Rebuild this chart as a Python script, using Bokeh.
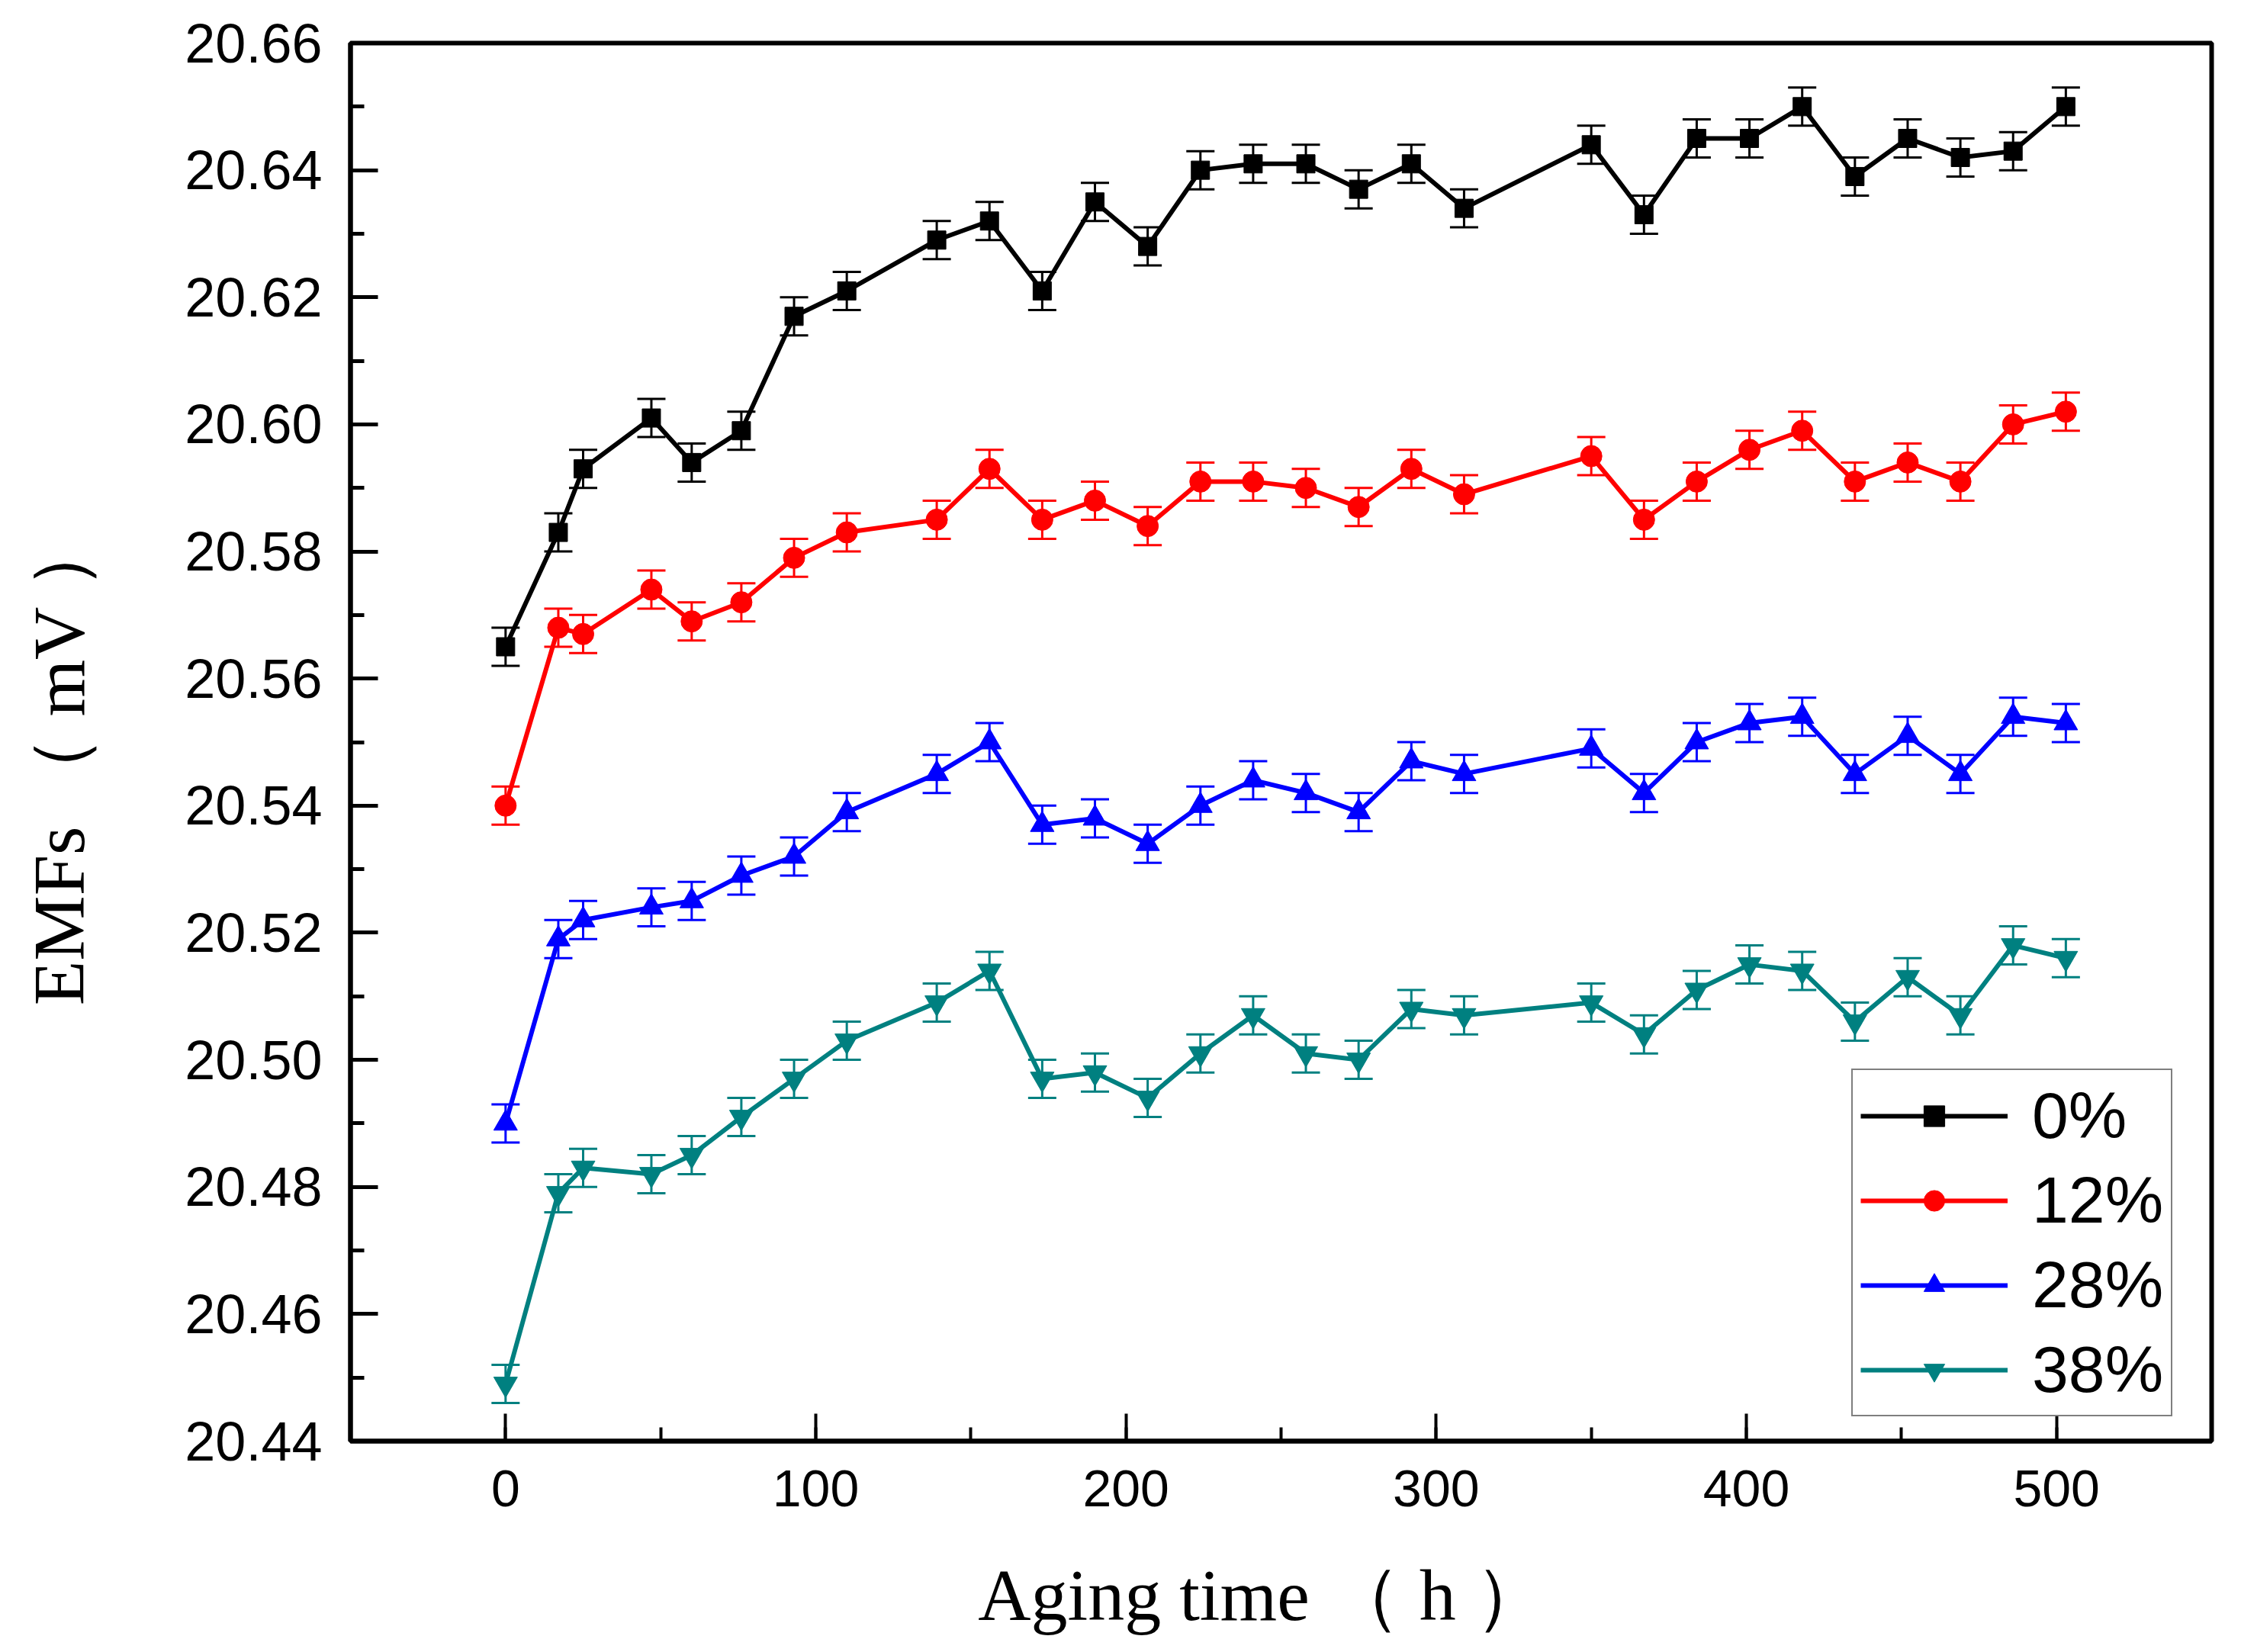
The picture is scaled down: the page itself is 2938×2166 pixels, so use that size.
from bokeh.plotting import figure
from bokeh.models import (ColumnDataSource, Whisker, TeeHead, SingleIntervalTicker,
                          PrintfTickFormatter, Range1d, Legend, LegendItem)
from bokeh.embed import file_html
from bokeh.resources import INLINE

# Aging time (h) and measured EMF (mV) for each doping level
aging_h = [0, 17, 25, 47, 60, 76, 93, 110, 139, 156, 173, 190, 207, 224, 241,
           258, 275, 292, 309, 350, 367, 384, 401, 418, 435, 452, 469, 486, 503]

emf_0 = [20.565, 20.583, 20.593, 20.601, 20.594, 20.599, 20.617, 20.621, 20.629,
         20.632, 20.621, 20.635, 20.628, 20.640, 20.641, 20.641, 20.637, 20.641,
         20.634, 20.644, 20.633, 20.645, 20.645, 20.650, 20.639, 20.645, 20.642,
         20.643, 20.650]
emf_12 = [20.540, 20.568, 20.567, 20.574, 20.569, 20.572, 20.579, 20.583, 20.585,
          20.593, 20.585, 20.588, 20.584, 20.591, 20.591, 20.590, 20.587, 20.593,
          20.589, 20.595, 20.585, 20.591, 20.596, 20.599, 20.591, 20.594, 20.591,
          20.600, 20.602]
emf_28 = [20.490, 20.519, 20.522, 20.524, 20.525, 20.529, 20.532, 20.539, 20.545,
          20.550, 20.537, 20.538, 20.534, 20.540, 20.544, 20.542, 20.539, 20.547,
          20.545, 20.549, 20.542, 20.550, 20.553, 20.554, 20.545, 20.551, 20.545,
          20.554, 20.553]
emf_38 = [20.449, 20.479, 20.483, 20.482, 20.485, 20.491, 20.497, 20.503, 20.509,
          20.514, 20.497, 20.498, 20.494, 20.501, 20.507, 20.501, 20.500, 20.508,
          20.507, 20.509, 20.504, 20.511, 20.515, 20.514, 20.506, 20.513, 20.507,
          20.518, 20.516]
emf_err = 0.003

series_labels = ["0%", "12%", "28%", "38%"]
series_values = [emf_0, emf_12, emf_28, emf_38]
series_colors = ["#000000", "#FF0000", "#0000FF", "#008080"]
series_markers = ["square", "circle", "triangle", "inverted_triangle"]
marker_sizes = [24, 28, 31, 31]

SANS = "Liberation Sans"
SERIF = "Liberation Serif"
NBSP = "\u00a0"

p = figure(width=2938, height=2166, output_backend="svg", toolbar_location=None,
           x_range=Range1d(-50, 550), y_range=Range1d(20.44, 20.66),
           min_border_left=459, min_border_right=39, min_border_top=56,
           min_border_bottom=277, background_fill_color="white",
           border_fill_color="white")
p.grid.visible = False
p.outline_line_color = "black"
p.outline_line_width = 6

# axes
p.xaxis.ticker = SingleIntervalTicker(interval=100, num_minor_ticks=2)
p.yaxis.ticker = SingleIntervalTicker(interval=0.02, num_minor_ticks=2)
p.yaxis.formatter = PrintfTickFormatter(format="%.2f")
for ax in (p.xaxis[0], p.yaxis[0]):
    ax.axis_line_width = 6
    ax.axis_line_color = "black"
    ax.major_tick_out = 0
    ax.minor_tick_out = 0
    ax.major_tick_in = 36
    ax.minor_tick_in = 18
    ax.major_tick_line_color = "black"
    ax.minor_tick_line_color = "black"
    ax.major_label_text_font = SANS
    ax.major_label_text_color = "black"
    ax.axis_label_text_font = SERIF
    ax.axis_label_text_font_style = "normal"
    ax.axis_label_text_font_size = "96px"
    ax.axis_label_text_color = "black"
p.xaxis.major_tick_line_width = 4
p.xaxis.minor_tick_line_width = 4
p.yaxis.major_tick_line_width = 5
p.yaxis.minor_tick_line_width = 5
p.xaxis.major_label_text_font_size = "68px"
p.yaxis.major_label_text_font_size = "72px"
p.xaxis.major_label_standoff = 38
p.yaxis.major_label_standoff = 37
p.xaxis.axis_label = "Aging time （ h ）" + NBSP * 2
p.yaxis.axis_label = "EMFs （ mV ）" + NBSP * 2
p.xaxis.axis_label_standoff = 60
p.yaxis.axis_label_standoff = 108

items = []
for label, vals, color, marker, msize in zip(series_labels, series_values,
                                             series_colors, series_markers, marker_sizes):
    src = ColumnDataSource(dict(
        x=aging_h, y=vals,
        upper=[v + emf_err for v in vals],
        lower=[v - emf_err for v in vals]))
    whisker = Whisker(base="x", upper="upper", lower="lower", source=src,
                      line_color=color, line_width=3,
                      upper_head=TeeHead(size=37, line_color=color, line_width=3),
                      lower_head=TeeHead(size=37, line_color=color, line_width=3))
    p.add_layout(whisker)
    line_r = p.line("x", "y", source=src, line_color=color, line_width=6)
    pts_r = p.scatter("x", "y", source=src, marker=marker, size=msize,
                      fill_color=color, line_color=color)
    items.append(LegendItem(label=label, renderers=[line_r, pts_r]))

legend = Legend(items=items, location=(1968, 32), orientation="vertical",
                glyph_width=193, glyph_height=68, label_height=80,
                label_standoff=32, spacing=12, padding=10, margin=0,
                label_text_font=SANS, label_text_font_size="86px",
                label_text_color="black", border_line_color="black",
                border_line_width=2, background_fill_color="white",
                background_fill_alpha=1.0)
p.add_layout(legend, "center")

open("out.html", "w").write(file_html(p, INLINE))
